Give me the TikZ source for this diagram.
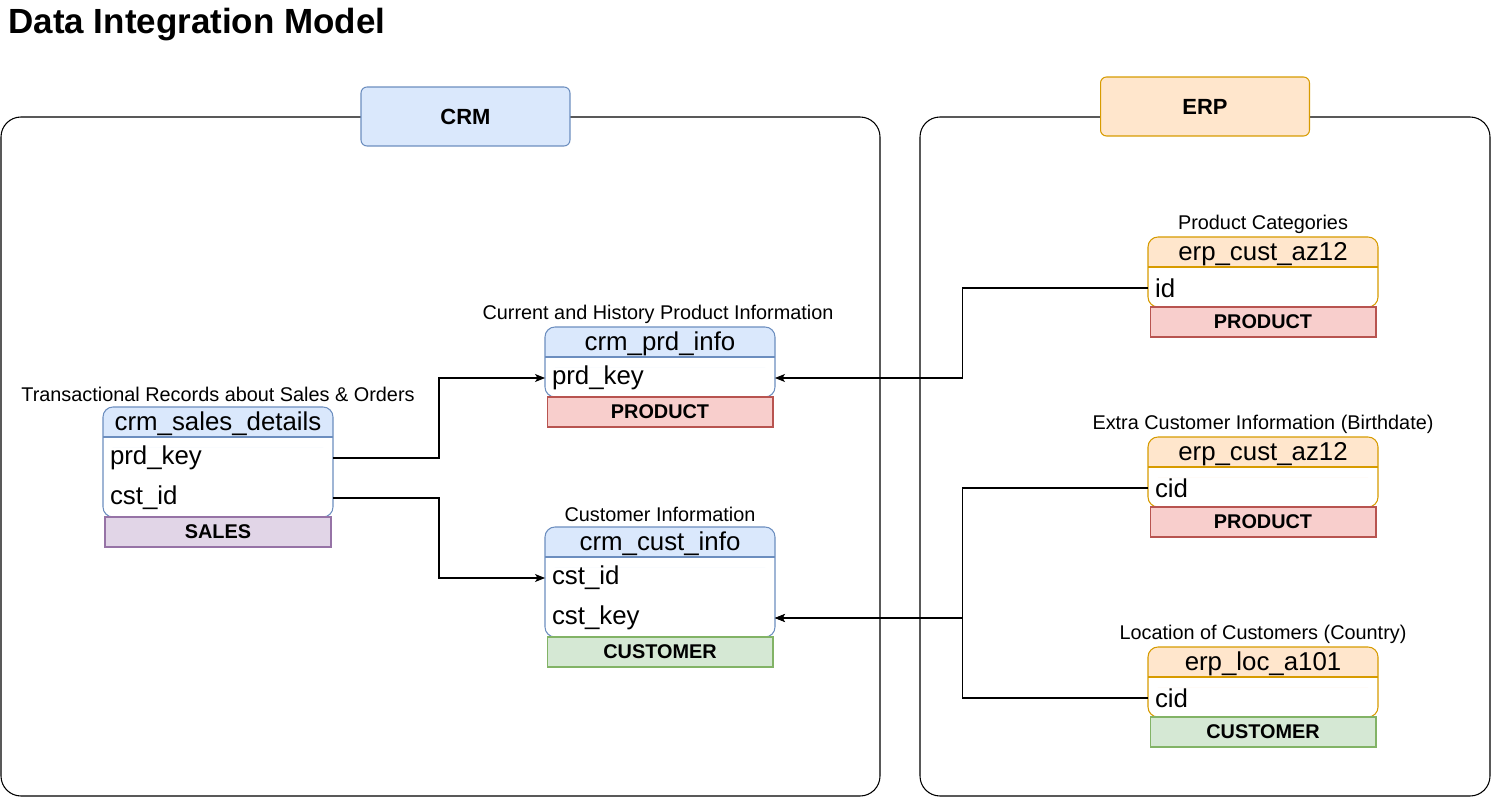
\documentclass[tikz,border=0pt]{standalone}
\usepackage{fontspec}
\setmainfont{Liberation Sans}
\usepackage{xcolor}
\usetikzlibrary{arrows.meta}

\definecolor{crmfill}{HTML}{DAE8FC}
\definecolor{crmline}{HTML}{6C8EBF}
\definecolor{erpfill}{HTML}{FFE6CC}
\definecolor{erpline}{HTML}{D79B00}
\definecolor{salesfill}{HTML}{E1D5E7}
\definecolor{salesline}{HTML}{9673A6}
\definecolor{prodfill}{HTML}{F8CECC}
\definecolor{prodline}{HTML}{B85450}
\definecolor{custfill}{HTML}{D5E8D4}
\definecolor{custline}{HTML}{82B366}

\begin{document}
\begin{tikzpicture}[x=0.02cm, y=-0.02cm, line width=0.6pt,
  captext/.style={font=\fontsize{11.3}{13}\selectfont, inner sep=0pt},
  headtext/.style={font=\fontsize{14.7}{17}\selectfont, inner sep=0pt},
  rowtext/.style={font=\fontsize{14.7}{17}\selectfont, text width=4.32cm, align=left,
    inner xsep=0.14cm, inner ysep=0pt, outer sep=0pt},
  tagbox/.style={font=\bfseries\fontsize{11.3}{13}\selectfont, minimum width=4.52cm,
    minimum height=0.6cm, inner sep=0pt},
  sidebox/.style={font=\bfseries\fontsize{12.5}{15}\selectfont, rounded corners=0.12cm,
    minimum width=4.18cm, minimum height=1.18cm, inner sep=0pt},
  conn/.style={-{Stealth[length=0.2cm,width=0.16cm,inset=0.05cm]}}]

\useasboundingbox (0,0) rectangle (1491,797);

% title
\node[font=\bfseries\fontsize{19.9}{23}\selectfont, anchor=base west, inner sep=0pt] (title) at (8,34) {Data Integration Model};

% containers
\draw [rounded corners=0.4cm] (1,117) rectangle (880,796);
\draw [rounded corners=0.4cm] (920,117) rectangle (1490,796);
\node[sidebox, draw=crmline, fill=crmfill] (crm) at (465.5,116.5) {CRM};
\node[sidebox, draw=erpline, fill=erpfill] (erp) at (1205,106.5) {ERP};

% crm_sales_details
\fill [white, rounded corners=0.2cm] (103,407) rectangle (333,517);
\fill [crmfill, rounded corners=0.2cm] (103,407) rectangle (333,447);
\fill [white] (103,437) rectangle (333,447);
\draw [crmline, rounded corners=0.2cm] (103,407) rectangle (333,517);
\draw [crmline] (103,437) -- (333,437);
\node[captext] (sdcap) at (218,394) {Transactional Records about Sales \& Orders};
\node[headtext] (sdhead) at (218,424) {crm\_sales\_details};
\node[rowtext] (sdprd) at (218,458) {prd\_key};
\node[rowtext] (sdcst) at (218,498) {cst\_id};
\node[tagbox, fill=salesfill, draw=salesline] (sdtag) at (218,532) {SALES};

% crm_prd_info
\fill [white, rounded corners=0.2cm] (545,327) rectangle (775,397);
\fill [crmfill, rounded corners=0.2cm] (545,327) rectangle (775,367);
\fill [white] (545,357) rectangle (775,367);
\draw [crmline, rounded corners=0.2cm] (545,327) rectangle (775,397);
\draw [crmline] (545,357) -- (775,357);
\node[captext] (picap) at (658,314) {Current and History Product Information};
\node[headtext] (pihead) at (660,344) {crm\_prd\_info};
\node[rowtext] (piprd) at (660,378) {prd\_key};
\node[tagbox, fill=prodfill, draw=prodline] (pitag) at (660,412) {PRODUCT};

% crm_cust_info
\fill [white, rounded corners=0.2cm] (545,527) rectangle (775,637);
\fill [crmfill, rounded corners=0.2cm] (545,527) rectangle (775,567);
\fill [white] (545,557) rectangle (775,567);
\draw [crmline, rounded corners=0.2cm] (545,527) rectangle (775,637);
\draw [crmline] (545,557) -- (775,557);
\node[captext] (cicap) at (660,514) {Customer Information};
\node[headtext] (cihead) at (660,544) {crm\_cust\_info};
\node[rowtext] (cicst) at (660,578) {cst\_id};
\node[rowtext] (cikey) at (660,618) {cst\_key};
\node[tagbox, fill=custfill, draw=custline] (citag) at (660,652) {CUSTOMER};

% erp_cust_az12 (categories)
\fill [white, rounded corners=0.2cm] (1148,237) rectangle (1378,307);
\fill [erpfill, rounded corners=0.2cm] (1148,237) rectangle (1378,277);
\fill [white] (1148,267) rectangle (1378,277);
\draw [erpline, rounded corners=0.2cm] (1148,237) rectangle (1378,307);
\draw [erpline] (1148,267) -- (1378,267);
\node[captext] (pccap) at (1263,224) {Product Categories};
\node[headtext] (pchead) at (1263,254) {erp\_cust\_az12};
\node[rowtext] (pcid) at (1263,288) {id};
\node[tagbox, fill=prodfill, draw=prodline] (pctag) at (1263,322) {PRODUCT};

% erp_cust_az12 (birthdate)
\fill [white, rounded corners=0.2cm] (1148,437) rectangle (1378,507);
\fill [erpfill, rounded corners=0.2cm] (1148,437) rectangle (1378,477);
\fill [white] (1148,467) rectangle (1378,477);
\draw [erpline, rounded corners=0.2cm] (1148,437) rectangle (1378,507);
\draw [erpline] (1148,467) -- (1378,467);
\node[captext] (bdcap) at (1263,424) {Extra Customer Information (Birthdate)};
\node[headtext] (bdhead) at (1263,454) {erp\_cust\_az12};
\node[rowtext] (bdcid) at (1263,488) {cid};
\node[tagbox, fill=prodfill, draw=prodline] (bdtag) at (1263,522) {PRODUCT};

% erp_loc_a101
\fill [white, rounded corners=0.2cm] (1148,647) rectangle (1378,717);
\fill [erpfill, rounded corners=0.2cm] (1148,647) rectangle (1378,687);
\fill [white] (1148,677) rectangle (1378,687);
\draw [erpline, rounded corners=0.2cm] (1148,647) rectangle (1378,717);
\draw [erpline] (1148,677) -- (1378,677);
\node[captext] (lccap) at (1263,634) {Location of Customers (Country)};
\node[headtext] (lchead) at (1263,664) {erp\_loc\_a101};
\node[rowtext] (lccid) at (1263,698) {cid};
\node[tagbox, fill=custfill, draw=custline] (lctag) at (1263,732) {CUSTOMER};

% connectors
\draw [conn] (sdprd.east) -- ++(106,0) |- (piprd.west);
\draw [conn] (sdcst.east) -- ++(106,0) |- (cicst.west);
\draw [conn] (pcid.west) -- ++(-186,0) |- (piprd.east);
\draw [conn] (bdcid.west) -- ++(-186,0) |- (cikey.east);
\draw [conn] (lccid.west) -- ++(-186,0) |- (cikey.east);

\end{tikzpicture}
\end{document}
